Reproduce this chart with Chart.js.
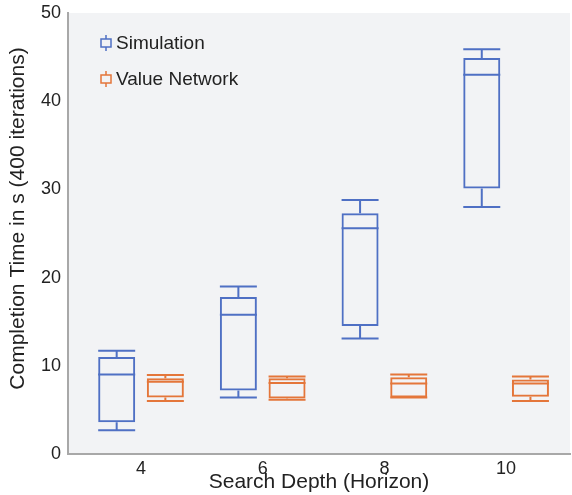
<!DOCTYPE html>
<html>
<head>
<meta charset="utf-8">
<script src="https://cdn.jsdelivr.net/npm/chart.js@4"></script>
<style>
  html, body { margin: 0; padding: 0; background: #fff; }
  #wrap { width: 572px; height: 495px; }
</style>
</head>
<body>
<div id="wrap"><canvas id="chart"></canvas></div>
<script>
// search depths
const depths = [4, 6, 8, 10];

// Simulation: min, q1, median, q3, max
const simMin = [2.7, 6.4, 13.1, 28.0];
const simQ1 = [3.6, 7.2, 14.5, 30.1];
const simMedian = [9.0, 15.8, 25.6, 43.0];
const simQ3 = [11.0, 17.8, 27.3, 44.9];
const simMax = [11.7, 19.0, 28.8, 45.9];

// Value Network
const vnMin = [6.0, 6.15, 6.4, 6.0];
const vnQ1 = [6.4, 6.3, 6.4, 6.5];
const vnMedian = [8.2, 8.05, 8.0, 8.0];
const vnQ3 = [8.6, 8.6, 8.7, 8.45];
const vnMax = [8.95, 8.8, 9.0, 8.8];

const yTicks = [0, 10, 20, 30, 40, 50];
const yTitle = "Completion Time in s (400 iterations)";

const FONT = "'Liberation Sans', Arial, Helvetica, sans-serif";
const BLUE = "#4f70c4";
const ORANGE = "#e4763a";

function boxData(q1, q3) {
  return depths.map((d, i) => ({ x: d, y: [q1[i], q3[i]] }));
}

const stats = [
  { min: simMin, med: simMedian, max: simMax },
  { min: vnMin, med: vnMedian, max: vnMax },
];

const plotBg = {
  id: "plotBg",
  beforeDraw(chart) {
    const { ctx, chartArea: a } = chart;
    ctx.save();
    ctx.fillStyle = "#f2f3f5";
    ctx.fillRect(a.left, a.top, a.right - a.left, a.bottom - a.top);
    ctx.restore();
  },
};

// medians, whiskers and caps drawn on top of the floating bars
const whiskers = {
  id: "whiskers",
  afterDatasetsDraw(chart) {
    const ctx = chart.ctx;
    const y = chart.scales.y;
    ctx.save();
    ctx.lineWidth = 2;
    chart.data.datasets.forEach((ds, d) => {
      const meta = chart.getDatasetMeta(d);
      const s = stats[d];
      ctx.strokeStyle = ds.borderColor;
      meta.data.forEach((bar, i) => {
        const half = bar.width / 2;
        const l = bar.x - half, r = bar.x + half;
        const raw = ds.data[i].y;
        const pMed = y.getPixelForValue(s.med[i]);
        const pMin = y.getPixelForValue(s.min[i]);
        const pMax = y.getPixelForValue(s.max[i]);
        const pQ1 = y.getPixelForValue(raw[0]);
        const pQ3 = y.getPixelForValue(raw[1]);
        ctx.beginPath();
        ctx.moveTo(l, pMed); ctx.lineTo(r, pMed);
        ctx.moveTo(bar.x, pQ3); ctx.lineTo(bar.x, pMax);
        ctx.moveTo(l, pMax); ctx.lineTo(r, pMax);
        ctx.moveTo(bar.x, pQ1); ctx.lineTo(bar.x, pMin);
        ctx.moveTo(l, pMin); ctx.lineTo(r, pMin);
        ctx.stroke();
      });
    });
    ctx.restore();
  },
};

const boxLegend = {
  id: "boxLegend",
  afterDraw(chart) {
    const { ctx, chartArea: a } = chart;
    ctx.save();
    ctx.font = "19px " + FONT;
    ctx.textBaseline = "middle";
    chart.data.datasets.forEach((ds, d) => {
      const cx = a.left + 38;
      const cy = a.top + 30 + d * 36;
      ctx.strokeStyle = ds.borderColor;
      ctx.lineWidth = 1.5;
      ctx.strokeRect(cx - 5, cy - 4, 10, 8);
      ctx.beginPath();
      ctx.moveTo(cx, cy - 8); ctx.lineTo(cx, cy - 4);
      ctx.moveTo(cx, cy + 4); ctx.lineTo(cx, cy + 8);
      ctx.stroke();
      ctx.fillStyle = "#222";
      ctx.fillText(ds.label, cx + 10, cy + 1);
    });
    // y axis title, sitting a bit above the axis centre as in the original
    const midY = (a.top + a.bottom) / 2 - 15;
    ctx.translate(18, midY);
    ctx.rotate(-Math.PI / 2);
    ctx.font = "21px " + FONT;
    ctx.textAlign = "center";
    ctx.fillText(yTitle, 0, 0);
    ctx.restore();
  },
};

new Chart(document.getElementById("chart"), {
  type: "bar",
  data: {
    datasets: [
      {
        label: "Simulation",
        data: boxData(simQ1, simQ3),
        borderColor: BLUE,
        backgroundColor: "rgba(0,0,0,0)",
        borderWidth: 2,
        borderSkipped: false,
      },
      {
        label: "Value Network",
        data: boxData(vnQ1, vnQ3),
        borderColor: ORANGE,
        backgroundColor: "rgba(0,0,0,0)",
        borderWidth: 2,
        borderSkipped: false,
      },
    ],
  },
  options: {
    responsive: true,
    maintainAspectRatio: false,
    animation: false,
    categoryPercentage: 0.8,
    barPercentage: 0.76,
    layout: { padding: { top: 13, right: 2, left: 0, bottom: 0 } },
    plugins: {
      legend: { display: false },
      tooltip: { enabled: false },
    },
    scales: {
      x: {
        type: "linear",
        min: 2.8,
        max: 11.05,
        offset: false,
        grid: { display: false, offset: false, drawTicks: false },
        border: { display: true, color: "#a8a8a8", width: 2 },
        afterBuildTicks: (axis) => {
          axis.ticks = depths.map((v) => ({ value: v }));
        },
        afterFit: (axis) => {
          axis.height = 41;
          axis.paddingLeft = 0;
          axis.paddingRight = 0;
        },
        ticks: {
          color: "#222",
          font: { family: FONT, size: 18 },
          padding: 4,
          maxRotation: 0,
        },
        title: {
          display: true,
          text: "Search Depth (Horizon)",
          color: "#222",
          font: { family: FONT, size: 21 },
          padding: { top: -3, bottom: 0 },
        },
      },
      y: {
        min: 0,
        max: 50,
        grid: { display: false, drawTicks: false },
        border: { display: true, color: "#a8a8a8", width: 2 },
        afterBuildTicks: (axis) => {
          axis.ticks = yTicks.map((v) => ({ value: v }));
        },
        afterFit: (axis) => {
          axis.width = 68;
          axis.paddingTop = 0;
          axis.paddingBottom = 0;
        },
        ticks: {
          color: "#222",
          font: { family: FONT, size: 18 },
          padding: 7,
        },
      },
    },
  },
  plugins: [plotBg, whiskers, boxLegend],
});
</script>
</body>
</html>
